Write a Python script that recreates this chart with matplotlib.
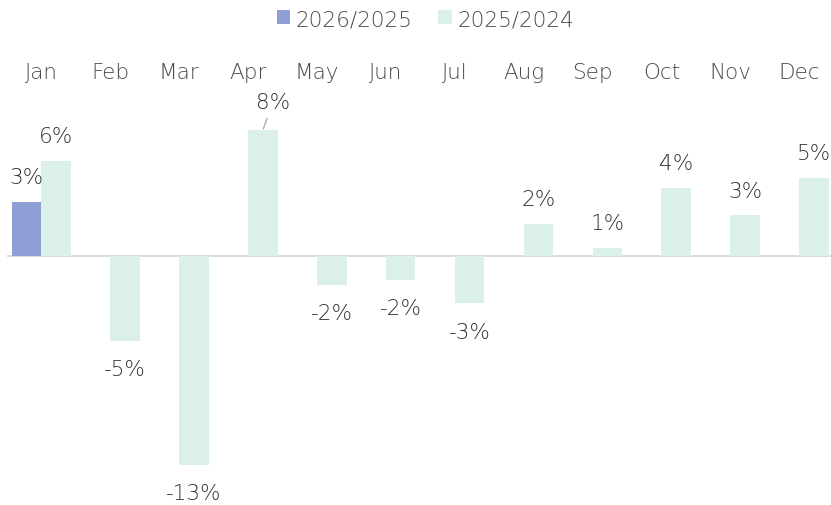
import numpy as np
import matplotlib
matplotlib.use("Agg")
import matplotlib.pyplot as plt

# dados
meses = ['Jan', 'Feb', 'Mar', 'Apr', 'May', 'Jun', 'Jul', 'Aug', 'Sep', 'Oct', 'Nov', 'Dec']
serie_2026 = [3.45]  # so janeiro
serie_2025 = [6.1, -5.45, -13.4, 8.05, -1.85, -1.55, -3.05, 2.05, 0.52, 4.35, 2.6, 5.0]
legendas = ['2026/2025', '2025/2024']

cor_azul = '#8f9ed4'
cor_verde = '#dbf0ea'
cor_texto = '#4a4a4a'
cor_rotulo = '#333333'
tam = 15.5

plt.rcParams['font.family'] = ['DejaVu Sans']
plt.rcParams['font.weight'] = 'light'

fig = plt.figure(figsize=(8.31, 5.06), dpi=100)
W, H = 831, 506
escala = 15.6          # px por ponto percentual
zero_px = 256.7
ymin, ymax = -14, 9
topo = zero_px - ymax * escala
base = zero_px - ymin * escala
esq = 6.85
larg = 68.9 * 12
ax = fig.add_axes([esq / W, 1 - base / H, larg / W, (base - topo) / H])

index = np.arange(len(meses))
bar_width = 0.43

b1 = ax.bar(index[:len(serie_2026)] - bar_width / 2, serie_2026, bar_width,
            color=cor_azul, label=legendas[0])
b2 = ax.bar(index + bar_width / 2, serie_2025, bar_width,
            color=cor_verde, label=legendas[1])

ax.set_xlim(-0.5, 11.5)
ax.set_ylim(ymin, ymax)
ax.axhline(0, color='#d9d9d9', lw=1.3, zorder=0.5)

for s in ax.spines.values():
    s.set_visible(False)
ax.set_yticks([])
ax.xaxis.tick_top()
ax.set_xticks(index)
ax.set_xticklabels(meses, color=cor_texto, fontsize=tam)
ax.tick_params(axis='x', length=0, pad=23.8)


def rotulo(x, v, dx=0, dy=None, seta=False):
    if dy is None:
        dy = 17.6 if v >= 0 else -20.5
    txt = '{:.0f}%'.format(v)
    setas = None
    if seta:
        setas = dict(arrowstyle='-', color='#a6a6a6', lw=0.9, shrinkA=3, shrinkB=1)
    ax.annotate(txt, xy=(x, v), xytext=(dx, dy), textcoords='offset points',
                ha='center', va='center', fontsize=tam, color=cor_rotulo,
                arrowprops=setas)


for i, v in enumerate(serie_2026):
    rotulo(i - bar_width / 2, v)
for i, v in enumerate(serie_2025):
    if meses[i] == 'Apr':
        rotulo(i + bar_width / 2, v, dx=7.5, dy=20.5, seta=True)
    else:
        rotulo(i + bar_width / 2, v)

fig.legend(handles=[b1, b2], labels=legendas, loc='center', ncol=2,
           bbox_to_anchor=(0.512, 1 - 20 / H), frameon=False,
           fontsize=tam, labelcolor=cor_texto,
           handlelength=0.63, handleheight=0.63, handletextpad=0.25,
           columnspacing=1.2)

fig.savefig('out.png', dpi=100)
